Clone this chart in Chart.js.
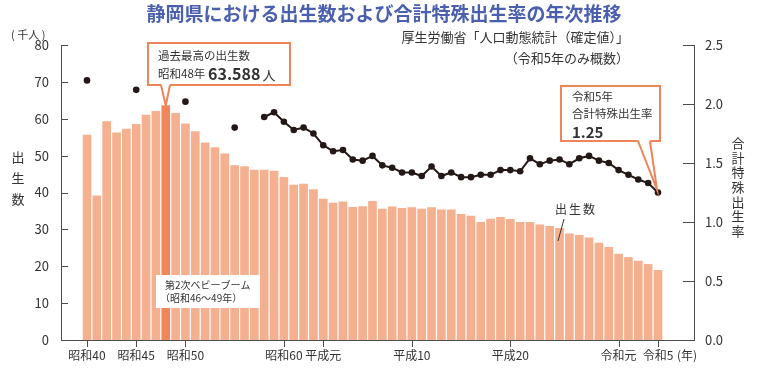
<!DOCTYPE html>
<html lang="ja">
<head>
<meta charset="utf-8">
<script src="https://cdn.jsdelivr.net/npm/chart.js@4/dist/chart.umd.min.js"></script>
<style>
body { margin: 0; background: #fff; }
#wrap { width: 760px; height: 370px; position: relative; }
</style>
</head>
<body>
<div id="wrap"><canvas id="myChart"></canvas></div>
<script>
var FONT = "'Noto Sans CJK JP', 'Noto Sans', sans-serif";

// 年（西暦）
var years = [1965, 1966, 1967, 1968, 1969, 1970, 1971, 1972, 1973, 1974,
  1975, 1976, 1977, 1978, 1979, 1980, 1981, 1982, 1983, 1984,
  1985, 1986, 1987, 1988, 1989, 1990, 1991, 1992, 1993, 1994,
  1995, 1996, 1997, 1998, 1999, 2000, 2001, 2002, 2003, 2004,
  2005, 2006, 2007, 2008, 2009, 2010, 2011, 2012, 2013, 2014,
  2015, 2016, 2017, 2018, 2019, 2020, 2021, 2022, 2023];

// 出生数（千人）
var births = [55.6, 39.1, 59.2, 56.2, 57.2, 58.5, 61.0, 62.0, 63.588, 61.5,
  58.6, 56.5, 53.5, 52.2, 50.5, 47.3, 47.0, 46.1, 46.1, 45.8,
  44.1, 42.0, 42.3, 40.8, 38.2, 37.1, 37.5, 36.0, 36.2, 37.6,
  35.5, 36.1, 35.7, 35.9, 35.5, 35.9, 35.3, 35.3, 34.1, 33.6,
  31.9, 32.8, 33.3, 32.7, 31.9, 31.9, 31.2, 30.8, 30.3, 28.8,
  28.4, 27.7, 26.3, 25.1, 23.3, 22.4, 21.4, 20.5, 18.9];

// 合計特殊出生率
var tfr = [2.20, null, null, null, null, 2.12, null, null, null, null,
  2.02, null, null, null, null, 1.80, null, null, 1.89, 1.93,
  1.85, 1.78, 1.80, 1.75, 1.65, 1.60, 1.61, 1.53, 1.52, 1.56,
  1.48, 1.46, 1.42, 1.42, 1.39, 1.47, 1.39, 1.42, 1.38, 1.38,
  1.40, 1.40, 1.44, 1.44, 1.43, 1.54, 1.49, 1.52, 1.53, 1.49,
  1.54, 1.56, 1.52, 1.50, 1.44, 1.40, 1.36, 1.33, 1.25];

// x軸の目盛
var tickYears = [1965, 1970, 1975, 1985, 1989, 1998, 2008, 2019, 2023];
var tickLabels = ['昭和40', '昭和45', '昭和50', '昭和60', '平成元', '平成10', '平成20', '令和元', '令和5'];

var peakYear = 1973;
var lastYear = 2023;

var BAR = '#F5B08F';
var BAR_PEAK = '#F0875A';
var ORANGE = '#EE8459';
var INK = '#231815';

Chart.defaults.font.family = FONT;
Chart.defaults.color = '#333';

var decor = {
  id: 'decor',
  afterDraw: function(chart) {
    var c = chart.ctx, a = chart.chartArea;
    var xs = chart.scales.x, ys = chart.scales.y, yr = chart.scales.y1;
    c.save();

    // 軸線と目盛
    c.strokeStyle = '#4d4d4d';
    c.lineWidth = 1;
    c.beginPath();
    c.moveTo(a.left + 0.5, a.top);
    c.lineTo(a.left + 0.5, a.bottom + 0.5);
    c.lineTo(a.right - 0.5, a.bottom + 0.5);
    c.lineTo(a.right - 0.5, a.top);
    ys.ticks.forEach(function(t) {
      var y = Math.round(ys.getPixelForValue(t.value)) + 0.5;
      c.moveTo(a.left, y); c.lineTo(a.left + 7, y);
    });
    yr.ticks.forEach(function(t) {
      var y = Math.round(yr.getPixelForValue(t.value)) + 0.5;
      c.moveTo(a.right - 12, y); c.lineTo(a.right, y);
    });
    xs.ticks.forEach(function(t) {
      var x = Math.round(xs.getPixelForValue(t.value)) + 0.5;
      c.moveTo(x, a.bottom); c.lineTo(x, a.bottom + 7);
    });
    c.stroke();

    c.textBaseline = 'middle';

    // タイトル
    c.fillStyle = '#4A60AF';
    c.font = 'bold 19px ' + FONT;
    c.textAlign = 'center';
    c.fillText('静岡県における出生数および合計特殊出生率の年次推移', 384, 14);

    // 出典
    c.fillStyle = '#333';
    c.font = '13px ' + FONT;
    c.textAlign = 'right';
    c.fillText('厚生労働省「人口動態統計（確定値）」', 629, 37);
    c.fillText('（令和5年のみ概数）', 629, 58);

    // 単位・軸タイトル
    c.textAlign = 'left';
    c.font = '11px ' + FONT;
    c.fillText('( 千人 )', 11, 35);
    c.font = '12px ' + FONT;
    c.fillText('(年)', 677, 355);

    c.textAlign = 'center';
    c.font = '13px ' + FONT;
    ['出', '生', '数'].forEach(function(ch, i) { c.fillText(ch, 18, 157 + i * 21); });
    '合計特殊出生率'.split('').forEach(function(ch, i) { c.fillText(ch, 738, 143 + i * 14.7); });

    // 第2次ベビーブーム
    c.fillStyle = '#fff';
    c.fillRect(156, 275, 104, 33);
    c.fillStyle = '#333';
    c.textAlign = 'left';
    c.font = '10px ' + FONT;
    c.fillText('第2次ベビーブーム', 165, 285);
    c.fillText('（昭和46〜49年）', 160, 298);

    // 出生数ラベル
    c.font = '12px ' + FONT;
    ['出', '生', '数'].forEach(function(ch, i) { c.fillText(ch, 555 + i * 14, 209); });
    c.beginPath();
    c.moveTo(564, 219); c.lineTo(558, 241);
    c.strokeStyle = '#333';
    c.stroke();

    // 吹き出し
    function callout(bx, by, bw, bh, p1, p2, tx, ty) {
      c.fillStyle = '#fff';
      c.strokeStyle = ORANGE;
      c.lineWidth = 2;
      c.fillRect(bx, by, bw, bh);
      c.strokeRect(bx, by, bw, bh);
      c.beginPath();
      c.moveTo(p1, by + bh - 1.5); c.lineTo(tx, ty); c.lineTo(p2, by + bh - 1.5);
      c.closePath();
      c.fill();
      c.beginPath();
      c.moveTo(p1, by + bh); c.lineTo(tx, ty); c.lineTo(p2, by + bh);
      c.stroke();
    }

    var pi = years.indexOf(peakYear);
    callout(148, 43, 142, 42, 161, 170,
      xs.getPixelForValue(peakYear), ys.getPixelForValue(births[pi]));
    c.fillStyle = '#333';
    c.textAlign = 'left';
    c.font = '11.5px ' + FONT;
    c.fillText('過去最高の出生数', 158, 56);
    c.fillText('昭和48年', 158, 74);
    c.font = 'bold 16px ' + FONT;
    c.fillText(births[pi].toFixed(3), 208, 74);
    var w = c.measureText(births[pi].toFixed(3)).width;
    c.font = '13px ' + FONT;
    c.fillText('人', 208 + w + 2, 75);

    var li = years.indexOf(lastYear);
    callout(561, 86, 99, 55, 638, 650,
      xs.getPixelForValue(lastYear) - 1, yr.getPixelForValue(tfr[li]) - 3);
    c.fillStyle = '#333';
    c.font = '11.5px ' + FONT;
    c.fillText('令和5年', 572, 97);
    c.fillText('合計特殊出生率', 572, 114);
    c.font = 'bold 15px ' + FONT;
    c.fillText(tfr[li].toFixed(2), 572, 132);

    c.restore();
  }
};

var ctx = document.getElementById('myChart').getContext('2d');
var mixedChart = new Chart(ctx, {
  data: {
    datasets: [{
      type: 'line',
      label: '合計特殊出生率',
      data: years.map(function(y, i) { return { x: y, y: tfr[i] }; }),
      yAxisID: 'y1',
      borderColor: INK,
      borderWidth: 2,
      pointRadius: 3.3,
      pointBackgroundColor: INK,
      pointBorderWidth: 0,
      spanGaps: false,
      tension: 0,
      order: 0
    }, {
      type: 'bar',
      label: '出生数',
      data: years.map(function(y, i) { return { x: y, y: births[i] }; }),
      yAxisID: 'y',
      backgroundColor: years.map(function(y) { return y === peakYear ? BAR_PEAK : BAR; }),
      barThickness: 8,
      order: 1
    }]
  },
  options: {
    responsive: true,
    maintainAspectRatio: false,
    animation: false,
    layout: { padding: { top: 45 } },
    plugins: { legend: { display: false }, tooltip: { enabled: false } },
    scales: {
      x: {
        type: 'linear',
        offset: false,
        min: 1962.36,
        max: 2026.76,
        grid: { display: false, drawTicks: false, offset: false },
        border: { display: false },
        afterBuildTicks: function(s) { s.ticks = tickYears.map(function(v) { return { value: v }; }); },
        afterFit: function(s) { s.height = 30; },
        ticks: {
          autoSkip: false,
          maxRotation: 0,
          padding: 8,
          font: { size: 12 },
          color: '#333',
          callback: function(v) { return tickLabels[tickYears.indexOf(v)]; }
        }
      },
      y: {
        position: 'left',
        min: 0,
        max: 80,
        grid: { display: false, drawTicks: false },
        border: { display: false },
        afterFit: function(s) { s.width = 61; },
        ticks: { stepSize: 10, padding: 12, font: { size: 13 }, color: '#333' }
      },
      y1: {
        position: 'right',
        min: 0,
        max: 2.5,
        grid: { display: false, drawTicks: false },
        border: { display: false },
        afterFit: function(s) { s.width = 65; },
        ticks: {
          stepSize: 0.5,
          padding: 10,
          font: { size: 13 },
          color: '#333',
          callback: function(v) { return v.toFixed(1); }
        }
      }
    }
  },
  plugins: [decor]
});
</script>
</body>
</html>
